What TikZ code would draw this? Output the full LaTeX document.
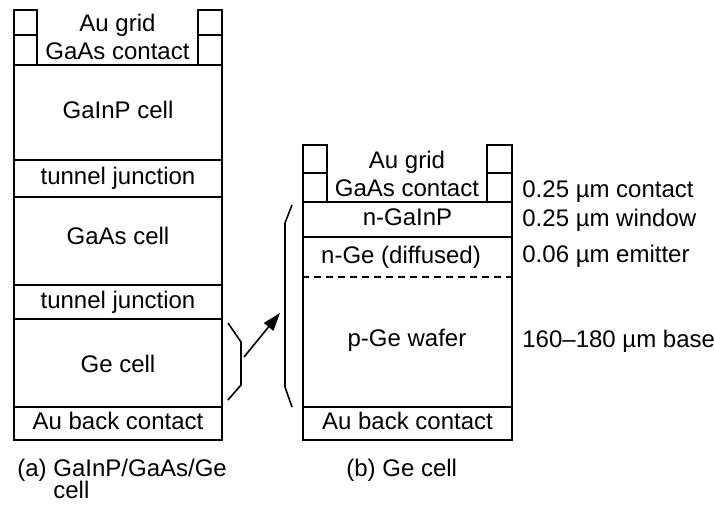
\documentclass[tikz,border=0pt]{standalone}
\usepackage{fontspec}
\setmainfont{Liberation Sans}
\usetikzlibrary{fit,arrows.meta}
\newcommand{\tightlines}{\fontsize{12}{11}\selectfont\lineskiplimit=-20pt\relax}
\begin{document}
\begin{tikzpicture}[x=0.5pt,y=-0.5pt,
  font=\fontsize{12}{14.4}\selectfont,
  layer/.style={draw, line width=1pt, inner sep=0pt},
  txt/.style={inner sep=0pt, text height=1.6ex, text depth=0.45ex},
  lbl/.style={anchor=base west, inner sep=0pt},
  brk/.style={line width=0.8pt},
  grid/.style={align=center, inner sep=0pt}]
\useasboundingbox (0,0) rectangle (714,514);
% ---------- (a) stack ----------
\node[layer, fit={(14,10)(37,35)}] (aTL1) {};
\node[layer, fit={(14,35)(37,65)}] (aTL2) {};
\node[layer, fit={(198,10)(222,35)}] (aTR1) {};
\node[layer, fit={(198,35)(222,65)}] (aTR2) {};
\node[grid] (aGrid) at (117.5,37) {Au grid\\GaAs contact};
\node[layer, fit={(14,65)(222,160)}] (aGaInP) {};
\node[txt] (aGaInPt) at (aGaInP.center) {GaInP cell};
\node[layer, fit={(14,160)(222,197)}] (aTJ1) {};
\node[txt] (aTJ1t) at (aTJ1.center) {tunnel junction};
\node[layer, fit={(14,197)(222,285)}] (aGaAs) {};
\node[txt] (aGaAst) at (118,238) {GaAs cell};
\node[layer, fit={(14,285)(222,319)}] (aTJ2) {};
\node[txt] (aTJ2t) at (aTJ2.center) {tunnel junction};
\node[layer, fit={(14,319)(222,407)}] (aGe) {};
\node[txt] (aGet) at (118,366) {Ge cell};
\node[layer, fit={(14,407)(222,440)}] (aBack) {};
\node[txt] (aBackt) at (aBack.center) {Au back contact};
% ---------- (b) stack ----------
\node[layer, fit={(303,145)(327,173)}] (bTL1) {};
\node[layer, fit={(303,173)(327,202)}] (bTL2) {};
\node[layer, fit={(487,145)(512,173)}] (bTR1) {};
\node[layer, fit={(487,173)(512,202)}] (bTR2) {};
\node[grid] (bGrid) at (407,174) {Au grid\\GaAs contact};
\node[layer, fit={(303,202)(512,237)}] (bWin) {};
\node[txt] (bWint) at (bWin.center) {n-GaInP};
\node[layer, fit={(303,237)(512,407)}] (bGe) {};
\node[txt] (bEmit) at (401,257) {n-Ge (diffused)};
\node[txt] (bWafer) at (407,340) {p-Ge wafer};
\coordinate (dashy) at (0,277);
\draw[line width=0.9pt, dash pattern=on 3.5pt off 2.5pt] (bGe.west |- dashy) -- (bGe.east |- dashy);
\node[layer, fit={(303,407)(512,440)}] (bBack) {};
\node[txt] (bBackt) at (bBack.center) {Au back contact};
% ---------- brackets and arrow ----------
\draw[brk] (228,323) -- (241,342) -- (241,385) -- (228,400);
\draw[brk] (292,205) -- (285,223) -- (285,387) -- (292,407);
\coordinate (arrS) at (244,357);
\coordinate (arrE) at (280,313);
\draw[brk, -{Triangle[length=9pt,width=6pt]}] (arrS) -- (arrE);
% ---------- dimension labels ----------
\node[lbl] (dContact) at (522,198) {0.25 µm contact};
\node[lbl] (dWindow) at (522,227) {0.25 µm window};
\node[lbl] (dEmitter) at (522,262) {0.06 µm emitter};
\node[lbl] (dBase) at (522,347) {160–180 µm base};
% ---------- captions ----------
\node[lbl, align=left, font=\tightlines] (capA) at (17,498) {(a) GaInP/GaAs/Ge\\\hphantom{(a) }cell};
\node[lbl] (capB) at (346,476) {(b) Ge cell};
\end{tikzpicture}
\end{document}
